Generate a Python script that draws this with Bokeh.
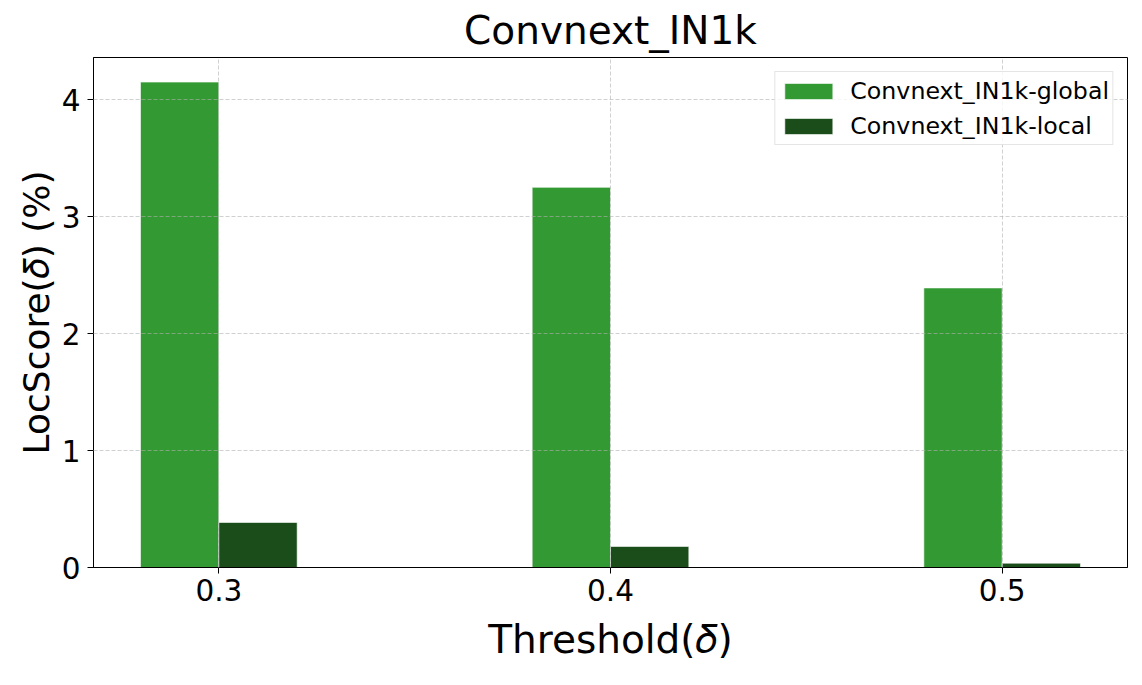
from bokeh.plotting import figure
from bokeh.models import ColumnDataSource, Legend, LegendItem, FixedTicker, Range1d
from bokeh.transform import dodge
from bokeh.embed import file_html
from bokeh.resources import INLINE

title = "Convnext_IN1k"
thresholds = [0.3, 0.4, 0.5]
tick_labels = ["0.3", "0.4", "0.5"]
global_vals = [4.15, 3.25, 2.39]
local_vals = [0.385, 0.18, 0.037]
series_names = ["Convnext_IN1k-global", "Convnext_IN1k-local"]
colors = ["#339933", "#1b4d1b"]

FONT = "DejaVu Sans"

src = ColumnDataSource(dict(x=thresholds, g=global_vals, l=local_vals))

p = figure(width=1134, height=677, output_backend="svg", toolbar_location=None,
           x_range=Range1d(0.268, 0.532), y_range=Range1d(0, 4.36),
           min_border_left=93, min_border_right=7, min_border_top=57, min_border_bottom=110)

bw = 0.02
rg = p.vbar(x=dodge("x", -bw / 2, range=p.x_range), top="g", width=bw, source=src,
            fill_color=colors[0], line_color="white", line_width=0.6)
rl = p.vbar(x=dodge("x", bw / 2, range=p.x_range), top="l", width=bw, source=src,
            fill_color=colors[1], line_color="white", line_width=0.6)

p.title.text = title
p.title.align = "center"
p.title.text_font = FONT
p.title.text_font_size = "39px"
p.title.text_font_style = "normal"
p.title.text_color = "black"

p.xaxis.ticker = FixedTicker(ticks=thresholds)
p.xaxis.major_label_overrides = {t: s for t, s in zip(thresholds, tick_labels)}
p.yaxis.ticker = FixedTicker(ticks=[0, 1, 2, 3, 4])
p.xaxis.axis_label = "Threshold(𝛿)"
p.yaxis.axis_label = "LocScore(𝛿) (%)"
for ax in (p.xaxis, p.yaxis):
    ax.axis_label_text_font = FONT
    ax.axis_label_text_font_style = "normal"
    ax.axis_label_text_color = "black"
    ax.major_label_text_font = FONT
    ax.major_label_text_font_size = "29.5px"
    ax.major_label_text_color = "black"
    ax.minor_tick_line_color = None
    ax.major_tick_in = 0
    ax.major_tick_out = 6
    ax.major_tick_line_color = "black"
    ax.axis_line_color = "black"
p.xaxis.axis_label_text_font_size = "39px"
p.yaxis.axis_label_text_font_size = "36px"
p.xaxis.axis_label_standoff = 13
p.yaxis.axis_label_standoff = 2
p.xaxis.major_label_standoff = 5
p.yaxis.major_label_standoff = 7

p.outline_line_color = "black"
p.outline_line_width = 1
p.outline_line_alpha = 1

for g in (p.xgrid, p.ygrid):
    g.grid_line_color = "#b0b0b0"
    g.grid_line_alpha = 0.6
    g.grid_line_dash = "4 2"
    g.level = "overlay"

legend = Legend(items=[LegendItem(label=series_names[0], renderers=[rg]),
                       LegendItem(label=series_names[1], renderers=[rl])],
                location="top_right")
legend.label_text_font = FONT
legend.label_text_font_size = "23.7px"
legend.label_text_color = "black"
legend.glyph_width = 60
legend.glyph_height = 20
legend.label_height = 31
legend.label_standoff = 12
legend.padding = 3
legend.spacing = 4
legend.margin = 14
legend.border_line_color = "#cccccc"
legend.border_line_width = 1
legend.background_fill_alpha = 0.8
p.add_layout(legend)

open("out.html", "w").write(file_html(p, INLINE))
